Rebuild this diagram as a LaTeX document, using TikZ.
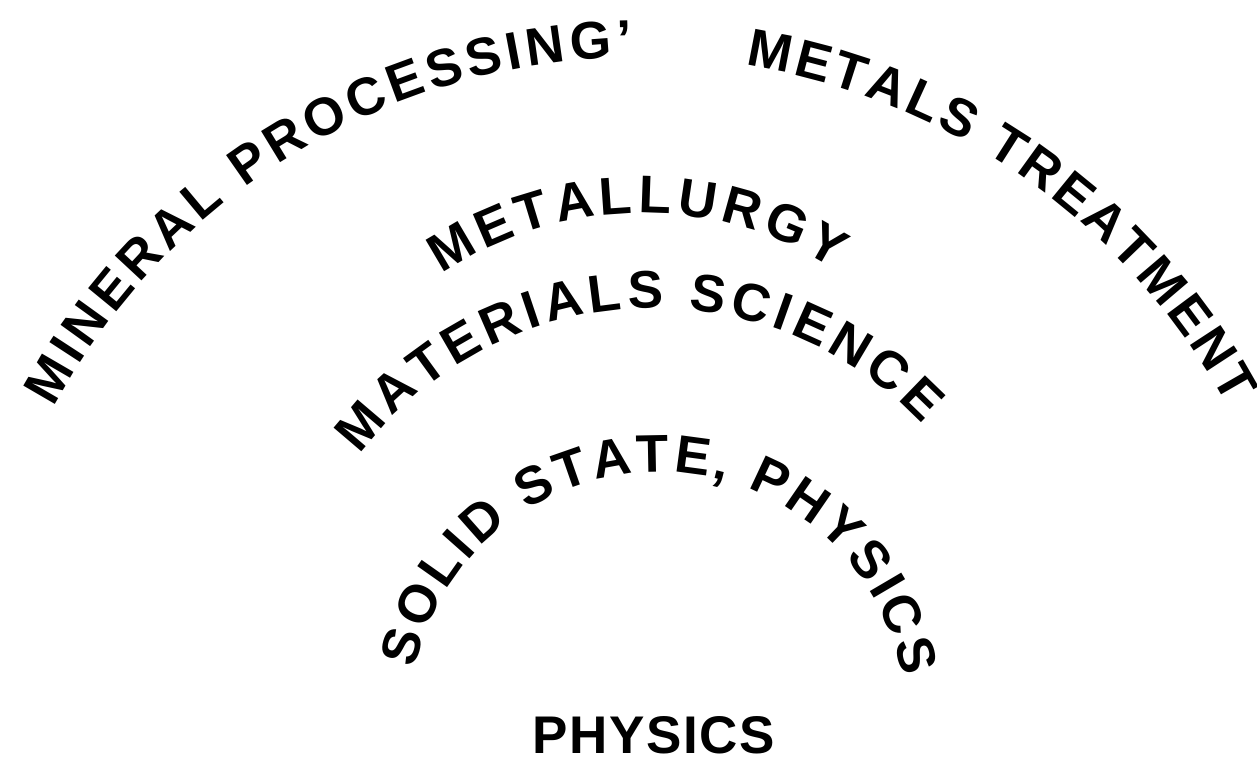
\documentclass[tikz,border=0pt]{standalone}
\usepackage{fontspec}
\newfontfamily\lblfont{Liberation Sans Bold}
\usetikzlibrary{decorations.text}
\tikzset{
  arctext/.style={decorate, decoration={text along path,
      text={|\lblfont\fontsize{53}{60}\selectfont|#1},
      text align={fit to path}}},
}
\begin{document}
\begin{tikzpicture}[x=1pt,y=1pt]
\useasboundingbox (0,0) rectangle (1257,768);
\coordinate (cOuter) at (641,44);
\coordinate (cMet) at (642,197);
\coordinate (cMat) at (654,92);
\coordinate (cSol) at (658,48);
\coordinate (pL) at (532,15);
\coordinate (pR) at (775,15);
% outer arc
\path[arctext={MINERAL PROCESSING’}] (cOuter) ++(151.7:667) arc[start angle=151.7, end angle=90.8, radius=667];
\path[arctext={METALS TREATMENT}] (cOuter) ++(81:667) arc[start angle=81, end angle=28.5, radius=667];
% metallurgy
\path[arctext={METALLURGY}] (cMet) ++(124:358) arc[start angle=124, end angle=57.5, radius=358];
% materials science
\path[arctext={MATERIALS SCIENCE}] (cMat) ++(143:368) arc[start angle=143, end angle=43.2, radius=368];
% solid state physics
\path[arctext={SOLID STATE, PHYSICS}] (cSol) ++(168:248) arc[start angle=168, end angle=10, radius=248];
% physics
\path[arctext={PHYSICS}] (pL) -- (pR);
\end{tikzpicture}
\end{document}
